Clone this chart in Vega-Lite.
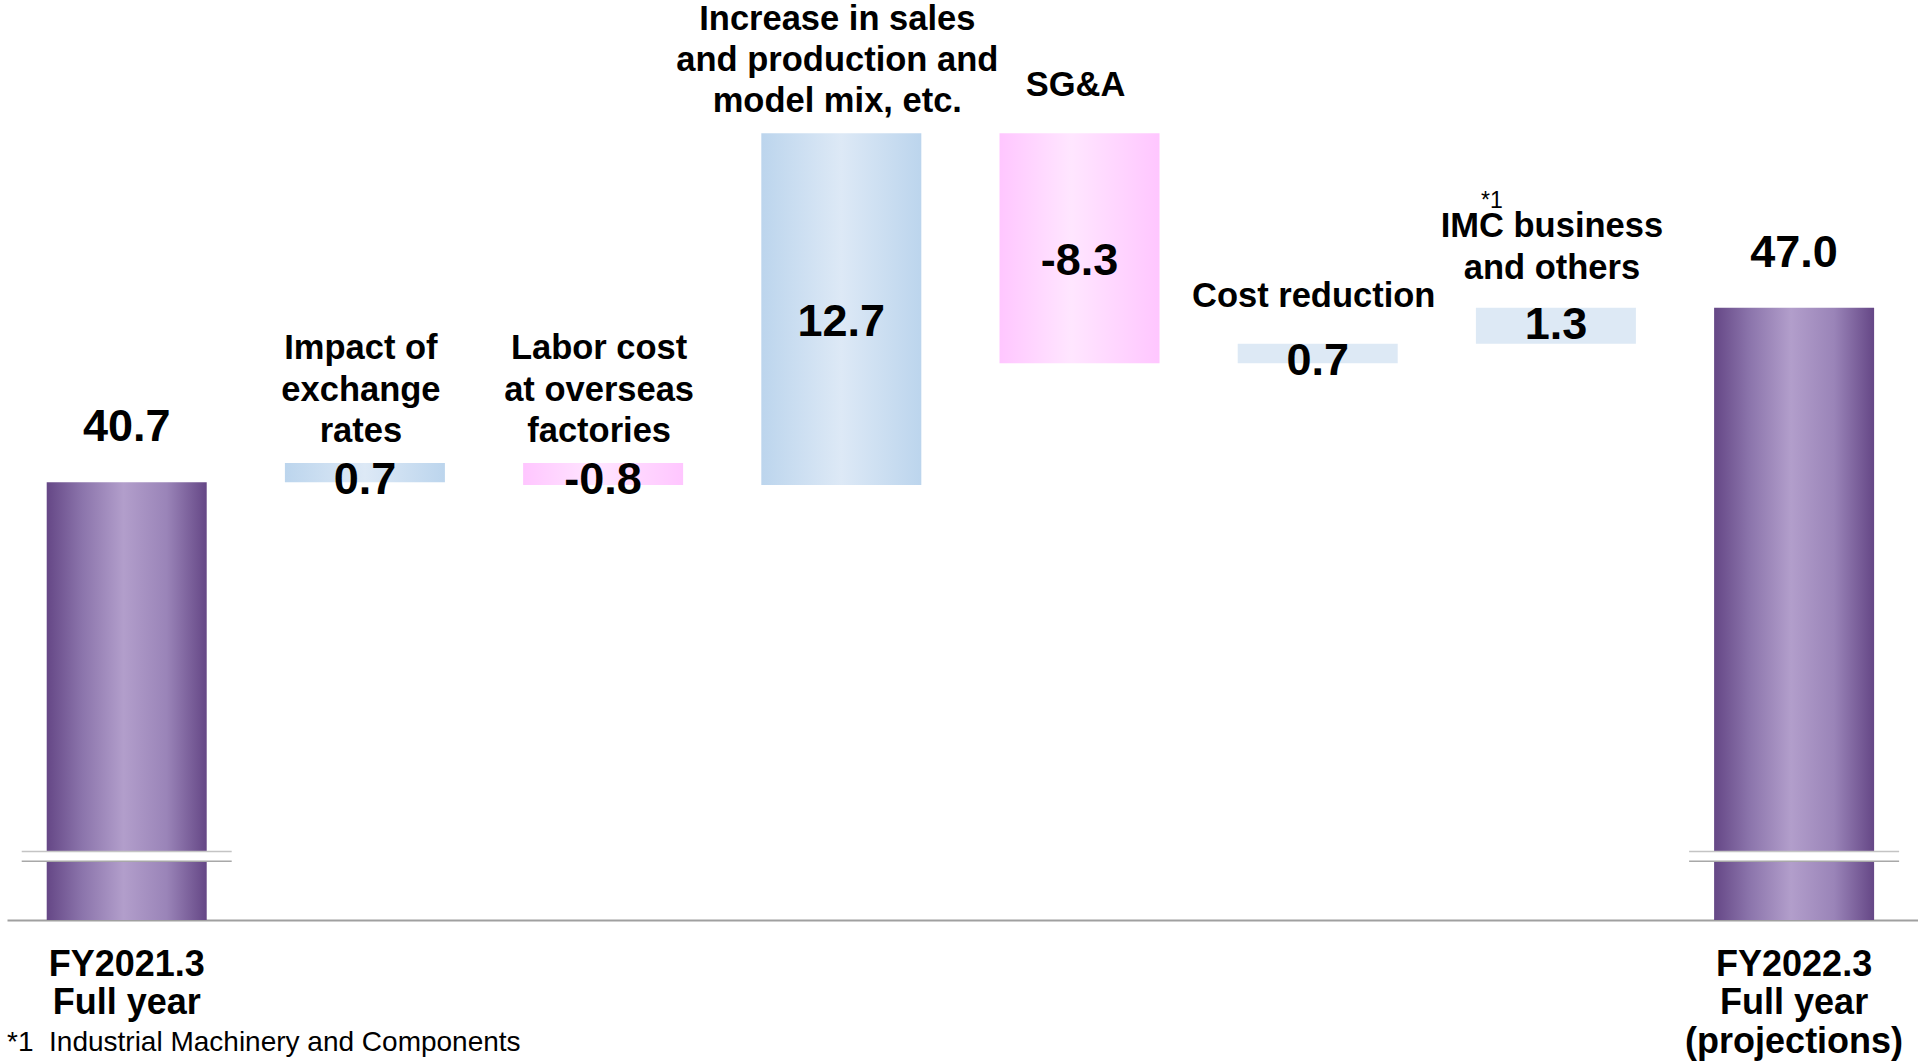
{
  "$schema": "https://vega.github.io/schema/vega-lite/v6.json",
  "width": 1911,
  "height": 920,
  "autosize": {"type": "none"},
  "padding": {"left": 7, "top": 0, "right": 0, "bottom": 141},
  "background": "white",
  "config": {"view": {"stroke": null}, "text": {"font": "Liberation Sans"}},
  "title": {
    "text": "*1\u00a0\u00a0Industrial Machinery and Components",
    "orient": "bottom",
    "anchor": "start",
    "offset": -30,
    "fontSize": 28,
    "fontWeight": "normal",
    "font": "Liberation Sans",
    "color": "#000000"
  },
  "data": {
    "values": [
      {"order": 1, "cat": "FY2021.3\nFull year", "type": "total", "low": 0, "high": 40.7, "valueText": "40.7", "value": 40.7},
      {"order": 2, "cat": "Impact of\nexchange\nrates", "type": "increase", "low": 40.7, "high": 41.4, "valueText": "0.7", "value": 0.7},
      {"order": 3, "cat": "Labor cost\nat overseas\nfactories", "type": "decrease", "low": 40.6, "high": 41.4, "valueText": "-0.8", "value": -0.8},
      {"order": 4, "cat": "Increase in sales\nand production and\nmodel mix, etc.", "type": "increase", "low": 40.6, "high": 53.3, "valueText": "12.7", "value": 12.7},
      {"order": 5, "cat": "SG&A", "type": "decrease", "low": 45.0, "high": 53.3, "valueText": "-8.3", "value": -8.3},
      {"order": 6, "cat": "Cost reduction", "type": "increase", "low": 45.0, "high": 45.7, "valueText": "0.7", "value": 0.7},
      {"order": 7, "cat": "IMC business\nand others", "type": "increase", "low": 45.7, "high": 47.0, "valueText": "1.3", "value": 1.3},
      {"order": 8, "cat": "FY2022.3\nFull year\n(projections)", "type": "total", "low": 0, "high": 47.0, "valueText": "47.0", "value": 47.0}
    ]
  },
  "encoding": {
    "x": {
      "field": "cat",
      "type": "nominal",
      "scale": {
        "domain": ["FY2021.3\nFull year", "Impact of\nexchange\nrates", "Labor cost\nat overseas\nfactories", "Increase in sales\nand production and\nmodel mix, etc.", "SG&A", "Cost reduction", "IMC business\nand others", "FY2022.3\nFull year\n(projections)"],
        "paddingInner": 0.3283,
        "paddingOuter": 0.1755,
        "align": 0.475
      },
      "axis": {
        "title": null,
        "labelExpr": "indexof(datum.value, 'FY') == 0 ? split(datum.value, '\\n') : ''",
        "ticks": false,
        "tickSize": 0,
        "labelPadding": 27,
        "labelAngle": 0,
        "labelFont": "Liberation Sans",
        "labelFontSize": 36,
        "labelFontWeight": "bold",
        "labelColor": "#000000",
        "labelLineHeight": 38.5,
        "labelLimit": 500,
        "labelOverlap": false,
        "labelBound": false,
        "domainColor": "#a0a0a0",
        "domainWidth": 2,
        "grid": false
      }
    }
  },
  "layer": [
    {
      "transform": [{"filter": "datum.type == 'total'"}],
      "mark": {"type": "bar", "color": {"gradient": "linear", "x1": 0, "y1": 0, "x2": 1, "y2": 0, "stops": [{"offset": 0, "color": "#654786"}, {"offset": 0.22, "color": "#8b74ab"}, {"offset": 0.48, "color": "#b29ecb"}, {"offset": 0.75, "color": "#9a84b8"}, {"offset": 1, "color": "#654786"}]}},
      "encoding": {
        "y": {"field": "low", "type": "quantitative", "scale": {"domain": [24.9, 58.11], "nice": false, "zero": false, "clamp": true}, "axis": null},
        "y2": {"field": "high"}
      }
    },
    {
      "transform": [{"filter": "datum.type == 'increase' && datum.order <= 4"}],
      "mark": {"type": "bar", "color": {"gradient": "linear", "x1": 0, "y1": 0, "x2": 1, "y2": 0, "stops": [{"offset": 0, "color": "#bcd5ed"}, {"offset": 0.5, "color": "#dde9f6"}, {"offset": 1, "color": "#bcd5ed"}]}},
      "encoding": {
        "y": {"field": "low", "type": "quantitative"},
        "y2": {"field": "high"}
      }
    },
    {
      "transform": [{"filter": "datum.type == 'increase' && datum.order > 4"}],
      "mark": {"type": "bar", "color": "#dde9f5"},
      "encoding": {
        "y": {"field": "low", "type": "quantitative"},
        "y2": {"field": "high"}
      }
    },
    {
      "transform": [{"filter": "datum.type == 'decrease'"}],
      "mark": {"type": "bar", "color": {"gradient": "linear", "x1": 0, "y1": 0, "x2": 1, "y2": 0, "stops": [{"offset": 0, "color": "#ffc6ff"}, {"offset": 0.45, "color": "#ffe6ff"}, {"offset": 1, "color": "#ffc6ff"}]}},
      "encoding": {
        "y": {"field": "low", "type": "quantitative"},
        "y2": {"field": "high"}
      }
    },
    {
      "transform": [{"filter": "datum.type == 'total'"}],
      "mark": {"type": "bar", "color": "#ffffff", "width": 212},
      "encoding": {
        "y": {"datum": 27.02, "type": "quantitative"},
        "y2": {"datum": 27.37}
      }
    },
    {
      "transform": [{"filter": "datum.type == 'total'"}],
      "mark": {"type": "tick", "color": "#c4c4c4", "size": 210, "thickness": 1.5, "opacity": 1},
      "encoding": {
        "y": {"datum": 27.37, "type": "quantitative"}
      }
    },
    {
      "transform": [{"filter": "datum.type == 'total'"}],
      "mark": {"type": "tick", "color": "#a8a8a8", "size": 210, "thickness": 1.5, "opacity": 1},
      "encoding": {
        "y": {"datum": 27.02, "type": "quantitative"}
      }
    },
    {
      "transform": [{"filter": "datum.type == 'total'"}],
      "mark": {"type": "text", "baseline": "bottom", "dy": -32, "fontSize": 45, "fontWeight": "bold", "color": "#000000", "font": "Liberation Sans"},
      "encoding": {
        "y": {"field": "high", "type": "quantitative"},
        "text": {"field": "valueText"}
      }
    },
    {
      "transform": [{"filter": "datum.type != 'total' && abs(datum.value) < 5"}],
      "mark": {"type": "text", "baseline": "alphabetic", "dy": 31, "fontSize": 45, "fontWeight": "bold", "color": "#000000", "font": "Liberation Sans"},
      "encoding": {
        "y": {"field": "high", "type": "quantitative"},
        "text": {"field": "valueText"}
      }
    },
    {
      "transform": [
        {"filter": "datum.type != 'total' && abs(datum.value) >= 5"},
        {"fold": ["low", "high"], "as": ["endKey", "endVal"]},
        {"aggregate": [{"op": "mean", "field": "endVal", "as": "mid"}], "groupby": ["cat", "valueText"]}
      ],
      "mark": {"type": "text", "baseline": "middle", "dy": 13, "fontSize": 45, "fontWeight": "bold", "color": "#000000", "font": "Liberation Sans"},
      "encoding": {
        "y": {"field": "mid", "type": "quantitative"},
        "text": {"field": "valueText"}
      }
    },
    {
      "transform": [{"filter": "datum.type != 'total' && length(split(datum.cat, '\\n')) == 3"}],
      "mark": {"type": "text", "baseline": "alphabetic", "dy": -103.6, "dx": -4, "fontSize": 34.5, "lineHeight": 41.3, "lineBreak": "\n", "fontWeight": "bold", "color": "#000000", "font": "Liberation Sans"},
      "encoding": {
        "y": {"field": "high", "type": "quantitative"},
        "text": {"field": "cat"}
      }
    },
    {
      "transform": [{"filter": "datum.type != 'total' && length(split(datum.cat, '\\n')) == 2"}],
      "mark": {"type": "text", "baseline": "alphabetic", "dy": -70.3, "dx": -4, "fontSize": 34.5, "lineHeight": 41.3, "lineBreak": "\n", "fontWeight": "bold", "color": "#000000", "font": "Liberation Sans"},
      "encoding": {
        "y": {"field": "high", "type": "quantitative"},
        "text": {"field": "cat"}
      }
    },
    {
      "transform": [{"filter": "datum.type != 'total' && length(split(datum.cat, '\\n')) == 1"}],
      "mark": {"type": "text", "baseline": "alphabetic", "dy": -37, "dx": -4, "fontSize": 34.5, "fontWeight": "bold", "color": "#000000", "font": "Liberation Sans"},
      "encoding": {
        "y": {"field": "high", "type": "quantitative"},
        "text": {"field": "cat"}
      }
    },
    {
      "transform": [{"filter": "indexof(datum.cat, 'IMC') == 0"}],
      "mark": {"type": "text", "text": "*1", "baseline": "alphabetic", "dy": -100, "dx": -64, "fontSize": 23, "fontWeight": "normal", "color": "#000000", "font": "Liberation Sans"},
      "encoding": {
        "y": {"field": "high", "type": "quantitative"}
      }
    }
  ]
}
